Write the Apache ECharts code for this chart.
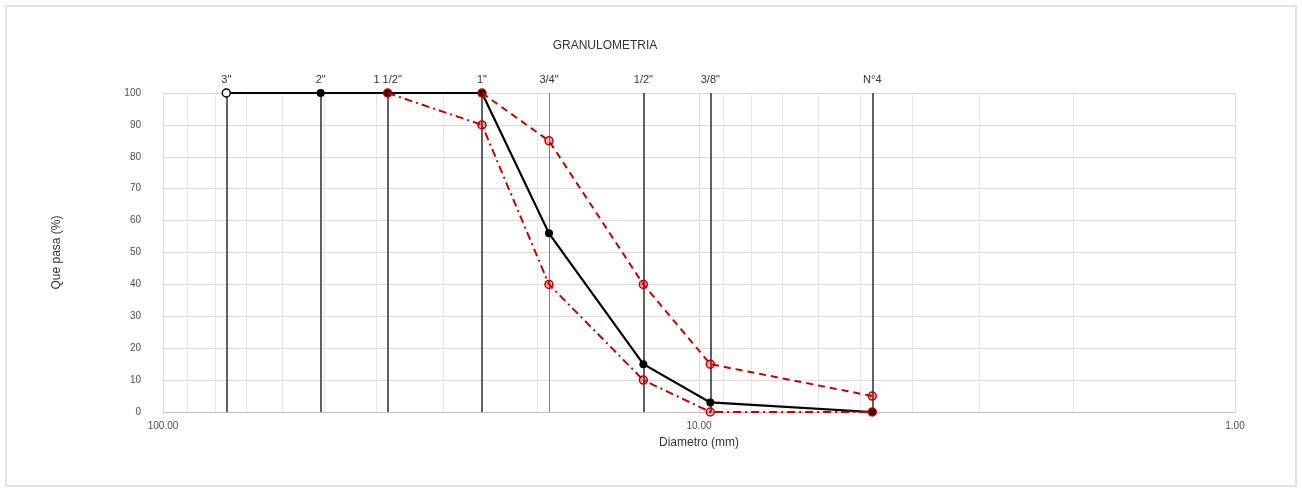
<!DOCTYPE html>
<html><head><meta charset="utf-8">
<script src="https://cdn.jsdelivr.net/npm/echarts@6/dist/echarts.min.js"></script>
<style>html,body{margin:0;padding:0;background:#fff}#c{width:1302px;height:491px}</style>
</head><body><div id="c"></div>
<script>
// Sieve names and openings (mm)
const sieveNames = ['3"', '2"', '1 1/2"', '1"', '3/4"', '1/2"', '3/8"', 'N°4'];
const sieveSizes = [76.2, 50.8, 38.1, 25.4, 19.05, 12.7, 9.525, 4.75];
// % passing
const muestra = [100, 100, 100, 100, 56, 15, 3, 0];
const limiteSuperior = [null, null, null, 100, 85, 40, 15, 5];
const limiteInferior = [null, null, 100, 90, 40, 10, 0, 0];
const minorGrid = [90, 80, 70, 60, 50, 40, 30, 20, 9, 8, 7, 6, 5, 4, 3, 2];
const xTicks = [100, 10, 1];

const FONT = 'Liberation Sans';
const pairs = arr => sieveSizes.map((s, i) => arr[i] == null ? null : [s, arr[i]]).filter(p => p);

const chart = echarts.init(document.getElementById('c'));
chart.setOption({
  animation: false,
  textStyle: { fontFamily: FONT },
  grid: { left: 163, right: 67, top: 93, bottom: 79 },
  graphic: [
    { type: 'rect', shape: { x: 6, y: 6, width: 1290, height: 480 }, style: { fill: 'none', stroke: '#e3e3e3', lineWidth: 2 }, z: -1 },
    { type: 'text', x: 605, y: 46, style: { text: 'GRANULOMETRIA', font: '12px ' + FONT, fill: '#333333', textAlign: 'center', textVerticalAlign: 'middle' } }
  ],
  xAxis: {
    type: 'log', logBase: 10, min: 1, max: 100, inverse: true,
    name: 'Diametro (mm)', nameLocation: 'middle', nameGap: 25,
    nameTextStyle: { fontSize: 12, color: '#333333', fontFamily: FONT },
    axisLine: { show: true, lineStyle: { color: '#bfbfbf', width: 1 } },
    axisTick: { show: false },
    axisLabel: { fontSize: 10, color: '#4d4d4d', margin: 9, formatter: v => Number(v).toFixed(2) },
    splitLine: { show: true, lineStyle: { color: '#d9d9d9', width: 1 } }
  },
  yAxis: {
    type: 'value', min: 0, max: 100, interval: 10,
    name: 'Que pasa (%)', nameLocation: 'middle', nameGap: 100, nameRotate: 90,
    nameTextStyle: { fontSize: 12, color: '#333333', fontFamily: FONT },
    axisLine: { show: true, lineStyle: { color: '#d9d9d9' } },
    axisTick: { show: false },
    axisLabel: { fontSize: 10, color: '#4d4d4d', margin: 22 },
    splitLine: { show: true, lineStyle: { color: '#d9d9d9', width: 1 } }
  },
  series: [
    {
      type: 'line', data: [], silent: true,
      markLine: {
        silent: true, symbol: 'none', animation: false,
        label: { show: false },
        lineStyle: { color: '#e6e6e6', width: 1, type: 'solid' },
        data: minorGrid.map(v => ({ xAxis: v }))
      }
    },
    {
      type: 'line', data: [], silent: true,
      markLine: {
        silent: true, symbol: 'none', animation: false,
        label: { show: true, position: 'end', distance: 8, formatter: p => p.name, fontSize: 11, color: '#333333', fontFamily: FONT },
        data: sieveSizes.map((s, i) => [
          { name: sieveNames[i], coord: [s, 0], lineStyle: { color: i === 4 ? '#808080' : '#3a3a3a', width: i === 4 ? 1 : 1.6, type: 'solid' } },
          { coord: [s, 100] }
        ])
      }
    },
    {
      name: 'Muestra', type: 'line', data: pairs(muestra).map((p, i) => i === 0 ? { value: p, itemStyle: { color: '#ffffff', borderColor: '#000', borderWidth: 1.5 } } : p),
      symbol: 'circle', symbolSize: 8,
      lineStyle: { color: '#000', width: 2.2 },
      itemStyle: { color: '#000' }, z: 5
    },
    {
      name: 'Limite superior', type: 'line', data: pairs(limiteSuperior),
      symbol: 'circle', symbolSize: 8,
      lineStyle: { color: '#c00000', width: 2, type: [7, 5] },
      itemStyle: { color: 'rgba(192,0,0,0.3)', borderColor: '#c00000', borderWidth: 1.5 }, z: 6
    },
    {
      name: 'Limite inferior', type: 'line', data: pairs(limiteInferior),
      symbol: 'circle', symbolSize: 8,
      lineStyle: { color: '#c00000', width: 2, type: [8, 4, 2, 4] },
      itemStyle: { color: 'rgba(192,0,0,0.3)', borderColor: '#c00000', borderWidth: 1.5 }, z: 6
    }
  ]
});
</script></body></html>
